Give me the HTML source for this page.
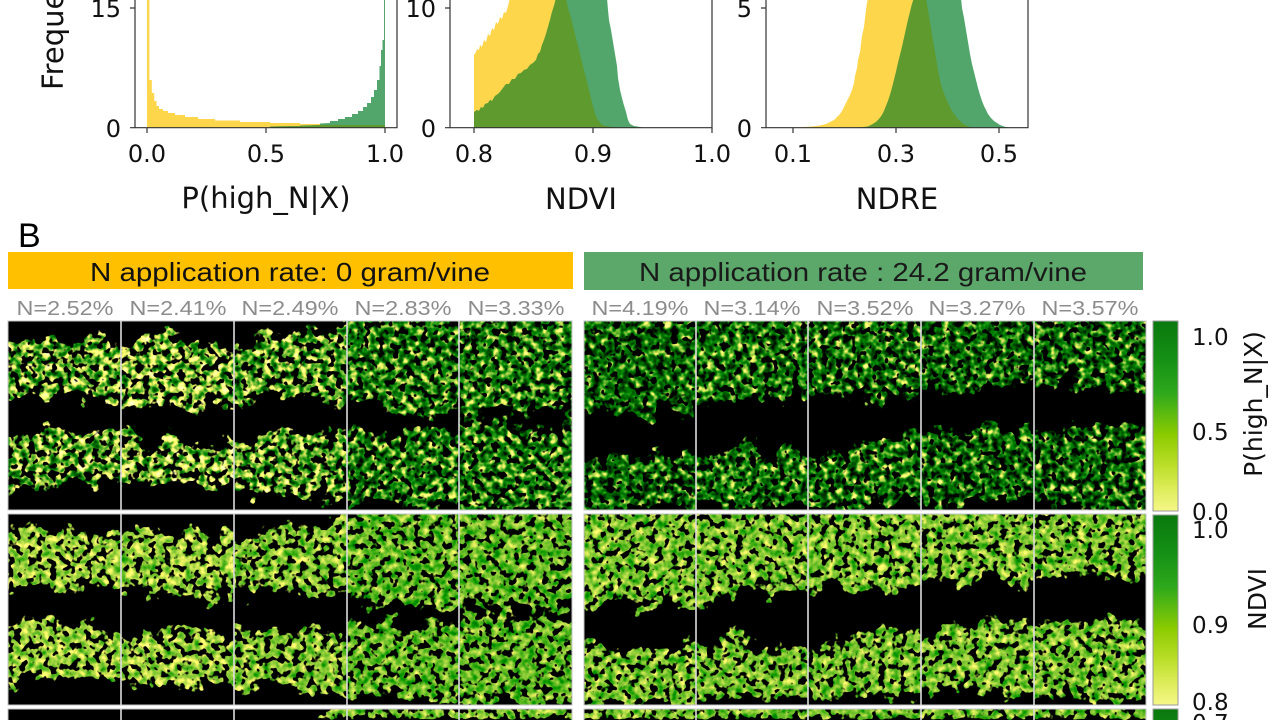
<!DOCTYPE html>
<html><head><meta charset="utf-8"><style>html,body{margin:0;padding:0;background:#fff;width:1280px;height:720px;overflow:hidden}svg{display:block}</style></head><body>
<svg width="1280" height="720" viewBox="0 0 1280 720" xmlns="http://www.w3.org/2000/svg">
<defs>
<linearGradient id="cb" x1="0" y1="0" x2="0" y2="1">
<stop offset="0" stop-color="#0A780E"/><stop offset="0.2" stop-color="#159015"/><stop offset="0.38" stop-color="#2EA81C"/><stop offset="0.5" stop-color="#62BC0E"/><stop offset="0.6" stop-color="#8CCB00"/><stop offset="0.75" stop-color="#B8DD26"/><stop offset="0.88" stop-color="#DCEC58"/><stop offset="1" stop-color="#F6F788"/>
</linearGradient>
<linearGradient id="cb3" x1="0" y1="709" x2="0" y2="899" gradientUnits="userSpaceOnUse">
<stop offset="0" stop-color="#0A780E"/><stop offset="0.2" stop-color="#159015"/><stop offset="1" stop-color="#F6F788"/>
</linearGradient>
<g id="L" fill="#fff">
<path d="M-20,340 L30,332 L60,338 L90,335 L121,341 L145,329 L175,335 L205,341 L234,345 L262,333 L292,335 L322,327 L340,316 L347,300 L600,300 L600,412 L540,416 L500,412 L459,416 L420,418 L380,412 L347,406 L320,402 L290,400 L262,401 L234,404 L205,412 L175,406 L145,404 L121,402 L90,401 L60,403 L30,400 L-20,402 Z"/>
<path d="M-20,428 L40,422 L80,429 L121,436 L160,434 L200,439 L234,437 L270,434 L310,433 L347,430 L390,428 L430,426 L459,424 L500,417 L540,421 L600,426 L600,520 L530,518 L459,513 L420,509 L380,508 L347,504 L300,500 L260,497 L234,495 L190,495 L150,493 L121,491 L80,490 L40,491 L-20,489 Z"/>
</g>
<g id="R" fill="#fff">
<path d="M556,300 L1175,300 L1175,390 L1100,388 L1034,390 L980,390 L921,394 L897,398 L887,416 L874,399 L808,398 L760,403 L720,408 L696,416 L650,418 L600,416 L556,416 Z"/>
<path d="M556,446 L620,451 L650,456 L696,448 L730,441 L760,444 L808,454 L840,444 L880,434 L921,432 L960,428 L1000,424 L1034,426 L1080,424 L1175,422 L1175,516 L1100,511 L1034,505 L980,503 L921,505 L880,505 L840,509 L808,507 L760,508 L720,510 L696,516 L556,520 Z"/>
</g>
<path id="L3" fill="#fff" d="M-20,720 L140,720 L145,717 L150,720 L255,720 L262,716 L272,720 L288,720 L292,718 L298,720 L312,720 L322,713 L340,702 L347,688 L600,688 L600,720 Z"/>
<path id="R3" fill="#fff" d="M556,688 L1175,688 L1175,720 L556,720 Z"/>
<clipPath id="kL11"><rect x="8" y="321" width="113" height="189"/></clipPath>
<clipPath id="kL21"><rect x="121" y="321" width="113" height="189"/></clipPath>
<clipPath id="kL31"><rect x="234" y="321" width="113" height="189"/></clipPath>
<clipPath id="kL41"><rect x="347" y="321" width="112" height="189"/></clipPath>
<clipPath id="kL51"><rect x="459" y="321" width="113" height="189"/></clipPath>
<clipPath id="kR11"><rect x="584" y="321" width="112" height="189"/></clipPath>
<clipPath id="kR21"><rect x="696" y="321" width="112" height="189"/></clipPath>
<clipPath id="kR31"><rect x="808" y="321" width="113" height="189"/></clipPath>
<clipPath id="kR41"><rect x="921" y="321" width="113" height="189"/></clipPath>
<clipPath id="kR51"><rect x="1034" y="321" width="112" height="189"/></clipPath>
<clipPath id="kL12"><rect x="8" y="514" width="113" height="191"/></clipPath>
<clipPath id="kL22"><rect x="121" y="514" width="113" height="191"/></clipPath>
<clipPath id="kL32"><rect x="234" y="514" width="113" height="191"/></clipPath>
<clipPath id="kL42"><rect x="347" y="514" width="112" height="191"/></clipPath>
<clipPath id="kL52"><rect x="459" y="514" width="113" height="191"/></clipPath>
<clipPath id="kR12"><rect x="584" y="514" width="112" height="191"/></clipPath>
<clipPath id="kR22"><rect x="696" y="514" width="112" height="191"/></clipPath>
<clipPath id="kR32"><rect x="808" y="514" width="113" height="191"/></clipPath>
<clipPath id="kR42"><rect x="921" y="514" width="113" height="191"/></clipPath>
<clipPath id="kR52"><rect x="1034" y="514" width="112" height="191"/></clipPath>
<clipPath id="kL3"><rect x="8" y="709" width="564" height="11"/></clipPath>
<clipPath id="kR3"><rect x="584" y="709" width="562" height="11"/></clipPath>

<!-- row 1 -->
<filter id="fL11" filterUnits="userSpaceOnUse" x="-17" y="296" width="163" height="234" color-interpolation-filters="sRGB"><feTurbulence type="fractalNoise" baseFrequency="0.05" numOctaves="2" seed="101" result="d"/><feDisplacementMap in="SourceAlpha" in2="d" scale="50" xChannelSelector="R" yChannelSelector="G" result="sa"/><feGaussianBlur in="sa" stdDeviation="4" result="b"/><feTurbulence type="fractalNoise" baseFrequency="0.14" numOctaves="2" seed="11" result="n"/><feColorMatrix in="n" type="matrix" values="0 0 0 0 0 0 0 0 0 0 0 0 0 0 0 0 0 0 1 0" result="na"/><feComposite in="na" in2="b" operator="arithmetic" k1="14" k2="0" k3="0" k4="-5.66" result="m"/><feColorMatrix in="n" type="matrix" values="-4.2 0 0 0 2.58 -1.85 0 0 0 1.67 -1.65 0 0 0 1.04 0 0 0 0 1" result="c"/><feComposite in="c" in2="m" operator="in"/></filter>
<filter id="fL21" filterUnits="userSpaceOnUse" x="96" y="296" width="163" height="234" color-interpolation-filters="sRGB"><feTurbulence type="fractalNoise" baseFrequency="0.05" numOctaves="2" seed="102" result="d"/><feDisplacementMap in="SourceAlpha" in2="d" scale="50" xChannelSelector="R" yChannelSelector="G" result="sa"/><feGaussianBlur in="sa" stdDeviation="4" result="b"/><feTurbulence type="fractalNoise" baseFrequency="0.14" numOctaves="2" seed="12" result="n"/><feColorMatrix in="n" type="matrix" values="0 0 0 0 0 0 0 0 0 0 0 0 0 0 0 0 0 0 1 0" result="na"/><feComposite in="na" in2="b" operator="arithmetic" k1="14" k2="0" k3="0" k4="-5.66" result="m"/><feColorMatrix in="n" type="matrix" values="-4.2 0 0 0 2.706 -1.85 0 0 0 1.7255 -1.65 0 0 0 1.0895 0 0 0 0 1" result="c"/><feComposite in="c" in2="m" operator="in"/></filter>
<filter id="fL31" filterUnits="userSpaceOnUse" x="209" y="296" width="163" height="234" color-interpolation-filters="sRGB"><feTurbulence type="fractalNoise" baseFrequency="0.05" numOctaves="2" seed="103" result="d"/><feDisplacementMap in="SourceAlpha" in2="d" scale="50" xChannelSelector="R" yChannelSelector="G" result="sa"/><feGaussianBlur in="sa" stdDeviation="4" result="b"/><feTurbulence type="fractalNoise" baseFrequency="0.14" numOctaves="2" seed="13" result="n"/><feColorMatrix in="n" type="matrix" values="0 0 0 0 0 0 0 0 0 0 0 0 0 0 0 0 0 0 1 0" result="na"/><feComposite in="na" in2="b" operator="arithmetic" k1="14" k2="0" k3="0" k4="-5.66" result="m"/><feColorMatrix in="n" type="matrix" values="-4.2 0 0 0 2.496 -1.85 0 0 0 1.633 -1.65 0 0 0 1.007 0 0 0 0 1" result="c"/><feComposite in="c" in2="m" operator="in"/></filter>
<filter id="fL41" filterUnits="userSpaceOnUse" x="322" y="296" width="162" height="234" color-interpolation-filters="sRGB"><feTurbulence type="fractalNoise" baseFrequency="0.05" numOctaves="2" seed="104" result="d"/><feDisplacementMap in="SourceAlpha" in2="d" scale="50" xChannelSelector="R" yChannelSelector="G" result="sa"/><feGaussianBlur in="sa" stdDeviation="4" result="b"/><feTurbulence type="fractalNoise" baseFrequency="0.14" numOctaves="2" seed="14" result="n"/><feColorMatrix in="n" type="matrix" values="0 0 0 0 0 0 0 0 0 0 0 0 0 0 0 0 0 0 1 0" result="na"/><feComposite in="na" in2="b" operator="arithmetic" k1="14" k2="0" k3="0" k4="-5.38" result="m"/><feColorMatrix in="n" type="matrix" values="-4.2 0 0 0 2.16 -1.85 0 0 0 1.485 -1.65 0 0 0 0.875 0 0 0 0 1" result="c"/><feComposite in="c" in2="m" operator="in"/></filter>
<filter id="fL51" filterUnits="userSpaceOnUse" x="434" y="296" width="163" height="234" color-interpolation-filters="sRGB"><feTurbulence type="fractalNoise" baseFrequency="0.05" numOctaves="2" seed="105" result="d"/><feDisplacementMap in="SourceAlpha" in2="d" scale="50" xChannelSelector="R" yChannelSelector="G" result="sa"/><feGaussianBlur in="sa" stdDeviation="4" result="b"/><feTurbulence type="fractalNoise" baseFrequency="0.14" numOctaves="2" seed="15" result="n"/><feColorMatrix in="n" type="matrix" values="0 0 0 0 0 0 0 0 0 0 0 0 0 0 0 0 0 0 1 0" result="na"/><feComposite in="na" in2="b" operator="arithmetic" k1="14" k2="0" k3="0" k4="-5.38" result="m"/><feColorMatrix in="n" type="matrix" values="-4.2 0 0 0 2.16 -1.85 0 0 0 1.485 -1.65 0 0 0 0.875 0 0 0 0 1" result="c"/><feComposite in="c" in2="m" operator="in"/></filter>
<filter id="fR11" filterUnits="userSpaceOnUse" x="559" y="296" width="162" height="234" color-interpolation-filters="sRGB"><feTurbulence type="fractalNoise" baseFrequency="0.05" numOctaves="2" seed="201" result="d"/><feDisplacementMap in="SourceAlpha" in2="d" scale="50" xChannelSelector="R" yChannelSelector="G" result="sa"/><feGaussianBlur in="sa" stdDeviation="4" result="b"/><feTurbulence type="fractalNoise" baseFrequency="0.14" numOctaves="2" seed="21" result="n"/><feColorMatrix in="n" type="matrix" values="0 0 0 0 0 0 0 0 0 0 0 0 0 0 0 0 0 0 1 0" result="na"/><feComposite in="na" in2="b" operator="arithmetic" k1="14" k2="0" k3="0" k4="-5.24" result="m"/><feColorMatrix in="n" type="matrix" values="-4.2 0 0 0 1.95 -1.85 0 0 0 1.3925 -1.65 0 0 0 0.7925 0 0 0 0 1" result="c"/><feComposite in="c" in2="m" operator="in"/></filter>
<filter id="fR21" filterUnits="userSpaceOnUse" x="671" y="296" width="162" height="234" color-interpolation-filters="sRGB"><feTurbulence type="fractalNoise" baseFrequency="0.05" numOctaves="2" seed="202" result="d"/><feDisplacementMap in="SourceAlpha" in2="d" scale="50" xChannelSelector="R" yChannelSelector="G" result="sa"/><feGaussianBlur in="sa" stdDeviation="4" result="b"/><feTurbulence type="fractalNoise" baseFrequency="0.14" numOctaves="2" seed="22" result="n"/><feColorMatrix in="n" type="matrix" values="0 0 0 0 0 0 0 0 0 0 0 0 0 0 0 0 0 0 1 0" result="na"/><feComposite in="na" in2="b" operator="arithmetic" k1="14" k2="0" k3="0" k4="-5.24" result="m"/><feColorMatrix in="n" type="matrix" values="-4.2 0 0 0 2.076 -1.85 0 0 0 1.448 -1.65 0 0 0 0.842 0 0 0 0 1" result="c"/><feComposite in="c" in2="m" operator="in"/></filter>
<filter id="fR31" filterUnits="userSpaceOnUse" x="783" y="296" width="163" height="234" color-interpolation-filters="sRGB"><feTurbulence type="fractalNoise" baseFrequency="0.05" numOctaves="2" seed="203" result="d"/><feDisplacementMap in="SourceAlpha" in2="d" scale="50" xChannelSelector="R" yChannelSelector="G" result="sa"/><feGaussianBlur in="sa" stdDeviation="4" result="b"/><feTurbulence type="fractalNoise" baseFrequency="0.14" numOctaves="2" seed="23" result="n"/><feColorMatrix in="n" type="matrix" values="0 0 0 0 0 0 0 0 0 0 0 0 0 0 0 0 0 0 1 0" result="na"/><feComposite in="na" in2="b" operator="arithmetic" k1="14" k2="0" k3="0" k4="-5.24" result="m"/><feColorMatrix in="n" type="matrix" values="-4.2 0 0 0 2.076 -1.85 0 0 0 1.448 -1.65 0 0 0 0.842 0 0 0 0 1" result="c"/><feComposite in="c" in2="m" operator="in"/></filter>
<filter id="fR41" filterUnits="userSpaceOnUse" x="896" y="296" width="163" height="234" color-interpolation-filters="sRGB"><feTurbulence type="fractalNoise" baseFrequency="0.05" numOctaves="2" seed="204" result="d"/><feDisplacementMap in="SourceAlpha" in2="d" scale="50" xChannelSelector="R" yChannelSelector="G" result="sa"/><feGaussianBlur in="sa" stdDeviation="4" result="b"/><feTurbulence type="fractalNoise" baseFrequency="0.14" numOctaves="2" seed="24" result="n"/><feColorMatrix in="n" type="matrix" values="0 0 0 0 0 0 0 0 0 0 0 0 0 0 0 0 0 0 1 0" result="na"/><feComposite in="na" in2="b" operator="arithmetic" k1="14" k2="0" k3="0" k4="-5.24" result="m"/><feColorMatrix in="n" type="matrix" values="-4.2 0 0 0 1.95 -1.85 0 0 0 1.3925 -1.65 0 0 0 0.7925 0 0 0 0 1" result="c"/><feComposite in="c" in2="m" operator="in"/></filter>
<filter id="fR51" filterUnits="userSpaceOnUse" x="1009" y="296" width="162" height="234" color-interpolation-filters="sRGB"><feTurbulence type="fractalNoise" baseFrequency="0.05" numOctaves="2" seed="205" result="d"/><feDisplacementMap in="SourceAlpha" in2="d" scale="50" xChannelSelector="R" yChannelSelector="G" result="sa"/><feGaussianBlur in="sa" stdDeviation="4" result="b"/><feTurbulence type="fractalNoise" baseFrequency="0.14" numOctaves="2" seed="25" result="n"/><feColorMatrix in="n" type="matrix" values="0 0 0 0 0 0 0 0 0 0 0 0 0 0 0 0 0 0 1 0" result="na"/><feComposite in="na" in2="b" operator="arithmetic" k1="14" k2="0" k3="0" k4="-5.24" result="m"/><feColorMatrix in="n" type="matrix" values="-4.2 0 0 0 1.95 -1.85 0 0 0 1.3925 -1.65 0 0 0 0.7925 0 0 0 0 1" result="c"/><feComposite in="c" in2="m" operator="in"/></filter>

<!-- row 2 -->
<filter id="fL12" filterUnits="userSpaceOnUse" x="-17" y="489" width="163" height="231" color-interpolation-filters="sRGB"><feTurbulence type="fractalNoise" baseFrequency="0.05" numOctaves="2" seed="101" result="d"/><feDisplacementMap in="SourceAlpha" in2="d" scale="50" xChannelSelector="R" yChannelSelector="G" result="sa"/><feGaussianBlur in="sa" stdDeviation="4" result="b"/><feTurbulence type="fractalNoise" baseFrequency="0.14" numOctaves="2" seed="31" result="n"/><feColorMatrix in="n" type="matrix" values="0 0 0 0 0 0 0 0 0 0 0 0 0 0 0 0 0 0 1 0" result="na"/><feComposite in="na" in2="b" operator="arithmetic" k1="14" k2="0" k3="0" k4="-5.52" result="m"/><feColorMatrix in="n" type="matrix" values="-1.8 0 0 0 1.54 -0.72 0 0 0 1.196 -0.81 0 0 0 0.6605 0 0 0 0 1" result="c"/><feComposite in="c" in2="m" operator="in"/></filter>
<filter id="fL22" filterUnits="userSpaceOnUse" x="96" y="489" width="163" height="231" color-interpolation-filters="sRGB"><feTurbulence type="fractalNoise" baseFrequency="0.05" numOctaves="2" seed="102" result="d"/><feDisplacementMap in="SourceAlpha" in2="d" scale="50" xChannelSelector="R" yChannelSelector="G" result="sa"/><feGaussianBlur in="sa" stdDeviation="4" result="b"/><feTurbulence type="fractalNoise" baseFrequency="0.14" numOctaves="2" seed="32" result="n"/><feColorMatrix in="n" type="matrix" values="0 0 0 0 0 0 0 0 0 0 0 0 0 0 0 0 0 0 1 0" result="na"/><feComposite in="na" in2="b" operator="arithmetic" k1="14" k2="0" k3="0" k4="-5.52" result="m"/><feColorMatrix in="n" type="matrix" values="-1.8 0 0 0 1.54 -0.72 0 0 0 1.196 -0.81 0 0 0 0.6605 0 0 0 0 1" result="c"/><feComposite in="c" in2="m" operator="in"/></filter>
<filter id="fL32" filterUnits="userSpaceOnUse" x="209" y="489" width="163" height="231" color-interpolation-filters="sRGB"><feTurbulence type="fractalNoise" baseFrequency="0.05" numOctaves="2" seed="103" result="d"/><feDisplacementMap in="SourceAlpha" in2="d" scale="50" xChannelSelector="R" yChannelSelector="G" result="sa"/><feGaussianBlur in="sa" stdDeviation="4" result="b"/><feTurbulence type="fractalNoise" baseFrequency="0.14" numOctaves="2" seed="33" result="n"/><feColorMatrix in="n" type="matrix" values="0 0 0 0 0 0 0 0 0 0 0 0 0 0 0 0 0 0 1 0" result="na"/><feComposite in="na" in2="b" operator="arithmetic" k1="14" k2="0" k3="0" k4="-5.52" result="m"/><feColorMatrix in="n" type="matrix" values="-1.8 0 0 0 1.45 -0.72 0 0 0 1.16 -0.81 0 0 0 0.62 0 0 0 0 1" result="c"/><feComposite in="c" in2="m" operator="in"/></filter>
<filter id="fL42" filterUnits="userSpaceOnUse" x="322" y="489" width="162" height="231" color-interpolation-filters="sRGB"><feTurbulence type="fractalNoise" baseFrequency="0.05" numOctaves="2" seed="104" result="d"/><feDisplacementMap in="SourceAlpha" in2="d" scale="50" xChannelSelector="R" yChannelSelector="G" result="sa"/><feGaussianBlur in="sa" stdDeviation="4" result="b"/><feTurbulence type="fractalNoise" baseFrequency="0.14" numOctaves="2" seed="34" result="n"/><feColorMatrix in="n" type="matrix" values="0 0 0 0 0 0 0 0 0 0 0 0 0 0 0 0 0 0 1 0" result="na"/><feComposite in="na" in2="b" operator="arithmetic" k1="14" k2="0" k3="0" k4="-5.38" result="m"/><feColorMatrix in="n" type="matrix" values="-1.8 0 0 0 1.306 -0.72 0 0 0 1.1024 -0.81 0 0 0 0.5552 0 0 0 0 1" result="c"/><feComposite in="c" in2="m" operator="in"/></filter>
<filter id="fL52" filterUnits="userSpaceOnUse" x="434" y="489" width="163" height="231" color-interpolation-filters="sRGB"><feTurbulence type="fractalNoise" baseFrequency="0.05" numOctaves="2" seed="105" result="d"/><feDisplacementMap in="SourceAlpha" in2="d" scale="50" xChannelSelector="R" yChannelSelector="G" result="sa"/><feGaussianBlur in="sa" stdDeviation="4" result="b"/><feTurbulence type="fractalNoise" baseFrequency="0.14" numOctaves="2" seed="35" result="n"/><feColorMatrix in="n" type="matrix" values="0 0 0 0 0 0 0 0 0 0 0 0 0 0 0 0 0 0 1 0" result="na"/><feComposite in="na" in2="b" operator="arithmetic" k1="14" k2="0" k3="0" k4="-5.38" result="m"/><feColorMatrix in="n" type="matrix" values="-1.8 0 0 0 1.306 -0.72 0 0 0 1.1024 -0.81 0 0 0 0.5552 0 0 0 0 1" result="c"/><feComposite in="c" in2="m" operator="in"/></filter>
<filter id="fR12" filterUnits="userSpaceOnUse" x="559" y="489" width="162" height="231" color-interpolation-filters="sRGB"><feTurbulence type="fractalNoise" baseFrequency="0.05" numOctaves="2" seed="201" result="d"/><feDisplacementMap in="SourceAlpha" in2="d" scale="50" xChannelSelector="R" yChannelSelector="G" result="sa"/><feGaussianBlur in="sa" stdDeviation="4" result="b"/><feTurbulence type="fractalNoise" baseFrequency="0.14" numOctaves="2" seed="41" result="n"/><feColorMatrix in="n" type="matrix" values="0 0 0 0 0 0 0 0 0 0 0 0 0 0 0 0 0 0 1 0" result="na"/><feComposite in="na" in2="b" operator="arithmetic" k1="14" k2="0" k3="0" k4="-5.38" result="m"/><feColorMatrix in="n" type="matrix" values="-1.8 0 0 0 1.396 -0.72 0 0 0 1.1384 -0.81 0 0 0 0.5957 0 0 0 0 1" result="c"/><feComposite in="c" in2="m" operator="in"/></filter>
<filter id="fR22" filterUnits="userSpaceOnUse" x="671" y="489" width="162" height="231" color-interpolation-filters="sRGB"><feTurbulence type="fractalNoise" baseFrequency="0.05" numOctaves="2" seed="202" result="d"/><feDisplacementMap in="SourceAlpha" in2="d" scale="50" xChannelSelector="R" yChannelSelector="G" result="sa"/><feGaussianBlur in="sa" stdDeviation="4" result="b"/><feTurbulence type="fractalNoise" baseFrequency="0.14" numOctaves="2" seed="42" result="n"/><feColorMatrix in="n" type="matrix" values="0 0 0 0 0 0 0 0 0 0 0 0 0 0 0 0 0 0 1 0" result="na"/><feComposite in="na" in2="b" operator="arithmetic" k1="14" k2="0" k3="0" k4="-5.38" result="m"/><feColorMatrix in="n" type="matrix" values="-1.8 0 0 0 1.396 -0.72 0 0 0 1.1384 -0.81 0 0 0 0.5957 0 0 0 0 1" result="c"/><feComposite in="c" in2="m" operator="in"/></filter>
<filter id="fR32" filterUnits="userSpaceOnUse" x="783" y="489" width="163" height="231" color-interpolation-filters="sRGB"><feTurbulence type="fractalNoise" baseFrequency="0.05" numOctaves="2" seed="203" result="d"/><feDisplacementMap in="SourceAlpha" in2="d" scale="50" xChannelSelector="R" yChannelSelector="G" result="sa"/><feGaussianBlur in="sa" stdDeviation="4" result="b"/><feTurbulence type="fractalNoise" baseFrequency="0.14" numOctaves="2" seed="43" result="n"/><feColorMatrix in="n" type="matrix" values="0 0 0 0 0 0 0 0 0 0 0 0 0 0 0 0 0 0 1 0" result="na"/><feComposite in="na" in2="b" operator="arithmetic" k1="14" k2="0" k3="0" k4="-5.38" result="m"/><feColorMatrix in="n" type="matrix" values="-1.8 0 0 0 1.396 -0.72 0 0 0 1.1384 -0.81 0 0 0 0.5957 0 0 0 0 1" result="c"/><feComposite in="c" in2="m" operator="in"/></filter>
<filter id="fR42" filterUnits="userSpaceOnUse" x="896" y="489" width="163" height="231" color-interpolation-filters="sRGB"><feTurbulence type="fractalNoise" baseFrequency="0.05" numOctaves="2" seed="204" result="d"/><feDisplacementMap in="SourceAlpha" in2="d" scale="50" xChannelSelector="R" yChannelSelector="G" result="sa"/><feGaussianBlur in="sa" stdDeviation="4" result="b"/><feTurbulence type="fractalNoise" baseFrequency="0.14" numOctaves="2" seed="44" result="n"/><feColorMatrix in="n" type="matrix" values="0 0 0 0 0 0 0 0 0 0 0 0 0 0 0 0 0 0 1 0" result="na"/><feComposite in="na" in2="b" operator="arithmetic" k1="14" k2="0" k3="0" k4="-5.38" result="m"/><feColorMatrix in="n" type="matrix" values="-1.8 0 0 0 1.396 -0.72 0 0 0 1.1384 -0.81 0 0 0 0.5957 0 0 0 0 1" result="c"/><feComposite in="c" in2="m" operator="in"/></filter>
<filter id="fR52" filterUnits="userSpaceOnUse" x="1009" y="489" width="162" height="231" color-interpolation-filters="sRGB"><feTurbulence type="fractalNoise" baseFrequency="0.05" numOctaves="2" seed="205" result="d"/><feDisplacementMap in="SourceAlpha" in2="d" scale="50" xChannelSelector="R" yChannelSelector="G" result="sa"/><feGaussianBlur in="sa" stdDeviation="4" result="b"/><feTurbulence type="fractalNoise" baseFrequency="0.14" numOctaves="2" seed="45" result="n"/><feColorMatrix in="n" type="matrix" values="0 0 0 0 0 0 0 0 0 0 0 0 0 0 0 0 0 0 1 0" result="na"/><feComposite in="na" in2="b" operator="arithmetic" k1="14" k2="0" k3="0" k4="-5.38" result="m"/><feColorMatrix in="n" type="matrix" values="-1.8 0 0 0 1.396 -0.72 0 0 0 1.1384 -0.81 0 0 0 0.5957 0 0 0 0 1" result="c"/><feComposite in="c" in2="m" operator="in"/></filter>

<!-- row 3 -->
<filter id="fL3" filterUnits="userSpaceOnUse" x="-20" y="680" width="620" height="40" color-interpolation-filters="sRGB"><feGaussianBlur in="SourceAlpha" stdDeviation="2" result="b"/><feTurbulence type="fractalNoise" baseFrequency="0.14" numOctaves="2" seed="51" result="n"/><feColorMatrix in="n" type="matrix" values="0 0 0 0 0 0 0 0 0 0 0 0 0 0 0 0 0 0 1 0" result="na"/><feComposite in="na" in2="b" operator="arithmetic" k1="14" k2="0" k3="0" k4="-5.38" result="m"/><feColorMatrix in="n" type="matrix" values="-1.8 0 0 0 1.396 -0.72 0 0 0 1.1384 -0.81 0 0 0 0.5957 0 0 0 0 1" result="c"/><feComposite in="c" in2="m" operator="in"/></filter>
<filter id="fR3" filterUnits="userSpaceOnUse" x="556" y="680" width="620" height="40" color-interpolation-filters="sRGB"><feGaussianBlur in="SourceAlpha" stdDeviation="2" result="b"/><feTurbulence type="fractalNoise" baseFrequency="0.14" numOctaves="2" seed="52" result="n"/><feColorMatrix in="n" type="matrix" values="0 0 0 0 0 0 0 0 0 0 0 0 0 0 0 0 0 0 1 0" result="na"/><feComposite in="na" in2="b" operator="arithmetic" k1="14" k2="0" k3="0" k4="-5.24" result="m"/><feColorMatrix in="n" type="matrix" values="-1.8 0 0 0 1.36 -0.72 0 0 0 1.124 -0.81 0 0 0 0.5795 0 0 0 0 1" result="c"/><feComposite in="c" in2="m" operator="in"/></filter>
</defs>

<rect x="0" y="0" width="1280" height="720" fill="#fff"/>

<g font-family="'DejaVu Sans', sans-serif" fill="#111">
<path d="M147,127.7 L147,-2 L149.4,-2 L149.4,80 L151.8,80 L151.8,93 L154.2,93 L154.2,101 L156.5,101 L156.5,106 L159,106 L159,109 L163,109 L163,111 L168,111 L168,113 L175,113 L175,115 L185,115 L185,117 L198,117 L198,119 L215,119 L215,120.5 L240,120.5 L240,122 L270,122 L270,123 L300,123 L300,124 L340,124 L340,125 L385,125 L385,127.7 Z" fill="#FDD64B"/>
<path d="M270,127.7 L270,126.5 L300,126 L300,125.5 L320,125 L320,123.5 L330,123 L330,121 L338,121 L338,119 L345,119 L345,117 L352,117 L352,114 L358,114 L358,111 L363,111 L363,107 L367,107 L367,103 L371,103 L371,97 L374,97 L374,90 L377,90 L377,80 L379.5,80 L379.5,66 L381,66 L381,50 L382.5,50 L382.5,40 L384,40 L384,-2 L385,-2 L385,127.7 Z" fill="#52A66B"/>
<path d="M270,127.7 L270,126.5 L300,126 L320,125 L385,125 L385,127.7 Z" fill="#5F9A2F"/>
<path d="M474,127.7 L474,55 L476,52 L477,49 L479,50 L480,45 L482,47 L484,40 L486,42 L488,34 L490,36 L492,28 L494,30 L496,22 L498,24 L500,17 L502,19 L504,12 L506,13 L508,6 L510,-2 L566,-2 L568,8 L570,14 L572,22 L574,30 L576,38 L578,46 L580,54 L582,62 L584,70 L586,78 L588,86 L590,94 L592,102 L594,110 L596,116 L598,120 L601,124 L605,126 L612,127 L620,127.7 Z" fill="#FDD64B"/>
<path d="M474,127.7 L474,112 L477,110 L479,111 L481,107 L483,108 L485,104 L488,103 L490,100 L492,101 L495,96 L498,94 L500,92 L503,88 L506,84 L509,84 L512,79 L515,79 L518,74 L521,73 L524,70 L527,69 L530,65 L533,63 L536,60 L538,54 L540,52 L542,45 L544,40 L546,34 L548,27 L550,20 L552,12 L554,6 L556,-2 L607,-2 L608,10 L609,20 L611,30 L613,42 L615,54 L617,66 L618,78 L620,90 L623,102 L626,112 L628,120 L630,124 L634,126 L640,127 L646,127.7 Z" fill="#52A66B"/>
<path d="M474,127.7 L474,112 L477,110 L479,111 L481,107 L483,108 L485,104 L488,103 L490,100 L492,101 L495,96 L498,94 L500,92 L503,88 L506,84 L509,84 L512,79 L515,79 L518,74 L521,73 L524,70 L527,69 L530,65 L533,63 L536,60 L538,54 L540,52 L542,45 L544,40 L546,34 L548,27 L550,20 L552,12 L554,6 L556,-2 L566,-2 L568,8 L570,14 L572,22 L574,30 L576,38 L578,46 L580,54 L582,62 L584,70 L586,78 L588,86 L590,94 L592,102 L594,110 L596,116 L598,120 L601,124 L605,126 L612,127 L620,127.7 Z" fill="#5F9A2F"/>
<path d="M785,127.7 L800,127.2 L812,126.5 L820,125.5 L826,124 L830,122 L834,120 L837,117 L840,114 L842,111 L844,107 L846,103 L848,99 L850,95 L852,90 L854,83 L855,76 L857,68 L858,60 L860,52 L861,44 L862,36 L864,27 L865,18 L866,10 L867,3 L868,-2 L926,-2 L928,10 L930,22 L932,34 L934,46 L936,58 L938,70 L940,80 L942,88 L945,96 L948,103 L951,109 L954,114 L957,118 L960,121 L963,124 L967,126 L972,127.7 Z" fill="#FDD64B"/>
<path d="M855,127.7 L862,127.3 L868,126.5 L872,124.5 L876,122 L879,119 L882,115 L884,111 L886,106 L888,101 L890,95 L892,88 L894,80 L896,72 L898,63 L900,55 L902,47 L904,38 L906,29 L908,20 L910,12 L912,4 L914,-2 L961,-2 L962,8 L964,18 L966,30 L968,42 L970,54 L972,64 L974,72 L976,80 L978,88 L980,95 L982,101 L984,106 L986,110 L988,114 L991,118 L994,121 L997,123 L1000,125 L1004,126.5 L1010,127.7 Z" fill="#52A66B"/>
<path d="M855,127.7 L862,127.3 L868,126.5 L872,124.5 L876,122 L879,119 L882,115 L884,111 L886,106 L888,101 L890,95 L892,88 L894,80 L896,72 L898,63 L900,55 L902,47 L904,38 L906,29 L908,20 L910,12 L912,4 L914,-2 L926,-2 L928,10 L930,22 L932,34 L934,46 L936,58 L938,70 L940,80 L942,88 L945,96 L948,103 L951,109 L954,114 L957,118 L960,121 L963,124 L967,126 L972,127.7 Z" fill="#5F9A2F"/>

<g fill="none" stroke="#333" stroke-width="1.2">
<path d="M135,-2 V127.7 H397 V-2"/>
<path d="M450,-2 V127.7 H712 V-2"/>
<path d="M766,-2 V127.7 H1028 V-2"/>
<path d="M147,127.7 V133 M266,127.7 V133 M385,127.7 V133 M130,8 H135 M130,127.7 H135"/>
<path d="M474,127.7 V133 M593,127.7 V133 M712,127.7 V133 M445,8 H450 M445,127.7 H450"/>
<path d="M793,127.7 V133 M896,127.7 V133 M999,127.7 V133 M761,8 H766 M761,127.7 H766"/>
</g>
<g font-size="24" text-anchor="middle">
<text x="147" y="162">0.0</text><text x="266" y="162">0.5</text><text x="385" y="162">1.0</text>
<text x="474" y="162">0.8</text><text x="593" y="162">0.9</text><text x="712" y="162">1.0</text>
<text x="793" y="162">0.1</text><text x="896" y="162">0.3</text><text x="999" y="162">0.5</text>
</g>
<g font-size="24" text-anchor="end">
<text x="121" y="17">15</text><text x="121" y="137">0</text>
<text x="436" y="17">10</text><text x="436" y="137">0</text>
<text x="752" y="17">5</text><text x="752" y="137">0</text>
</g>
<g font-size="29" text-anchor="middle">
<text x="266" y="208">P(high_N|X)</text>
<text x="581" y="209">NDVI</text>
<text x="897" y="209">NDRE</text>
</g>
<text font-size="29" transform="translate(63,90) rotate(-90)">Frequency</text>
</g>

<text x="18" y="247" font-family="'Liberation Sans', sans-serif" font-size="34" fill="#000">B</text>
<rect x="8" y="252" width="565" height="37" fill="#FFC000"/>
<rect x="584" y="252" width="559" height="38" fill="#5BA86A"/>
<g font-family="'Liberation Sans', sans-serif" font-size="26" fill="#111">
<text x="90" y="281" textLength="400" lengthAdjust="spacingAndGlyphs">N application rate: 0 gram/vine</text>
<text x="639" y="281" textLength="448" lengthAdjust="spacingAndGlyphs" fill="#1a1a1a">N application rate : 24.2 gram/vine</text>
</g>
<g font-family="'Liberation Sans', sans-serif" font-size="20" fill="#8c8c8c" text-anchor="middle">
<text x="65" y="315" textLength="97" lengthAdjust="spacingAndGlyphs">N=2.52%</text>
<text x="178" y="315" textLength="97" lengthAdjust="spacingAndGlyphs">N=2.41%</text>
<text x="290" y="315" textLength="97" lengthAdjust="spacingAndGlyphs">N=2.49%</text>
<text x="403" y="315" textLength="97" lengthAdjust="spacingAndGlyphs">N=2.83%</text>
<text x="516" y="315" textLength="97" lengthAdjust="spacingAndGlyphs">N=3.33%</text>
<text x="640" y="315" textLength="97" lengthAdjust="spacingAndGlyphs">N=4.19%</text>
<text x="752" y="315" textLength="97" lengthAdjust="spacingAndGlyphs">N=3.14%</text>
<text x="865" y="315" textLength="97" lengthAdjust="spacingAndGlyphs">N=3.52%</text>
<text x="977" y="315" textLength="97" lengthAdjust="spacingAndGlyphs">N=3.27%</text>
<text x="1090" y="315" textLength="97" lengthAdjust="spacingAndGlyphs">N=3.57%</text>
</g>

<g fill="#000">
<rect x="8" y="321" width="564" height="189"/>
<rect x="584" y="321" width="562" height="189"/>
<rect x="8" y="514" width="564" height="191"/>
<rect x="584" y="514" width="562" height="191"/>
<rect x="8" y="709" width="564" height="11"/>
<rect x="584" y="709" width="562" height="11"/>
</g>

<g clip-path="url(#kL11)"><g filter="url(#fL11)"><use href="#L"/></g></g>
<g clip-path="url(#kL21)"><g filter="url(#fL21)"><use href="#L"/></g></g>
<g clip-path="url(#kL31)"><g filter="url(#fL31)"><use href="#L"/></g></g>
<g clip-path="url(#kL41)"><g filter="url(#fL41)"><use href="#L"/></g></g>
<g clip-path="url(#kL51)"><g filter="url(#fL51)"><use href="#L"/></g></g>
<g clip-path="url(#kR11)"><g filter="url(#fR11)"><use href="#R"/></g></g>
<g clip-path="url(#kR21)"><g filter="url(#fR21)"><use href="#R"/></g></g>
<g clip-path="url(#kR31)"><g filter="url(#fR31)"><use href="#R"/></g></g>
<g clip-path="url(#kR41)"><g filter="url(#fR41)"><use href="#R"/></g></g>
<g clip-path="url(#kR51)"><g filter="url(#fR51)"><use href="#R"/></g></g>
<g clip-path="url(#kL12)"><g filter="url(#fL12)"><use href="#L" y="193"/></g></g>
<g clip-path="url(#kL22)"><g filter="url(#fL22)"><use href="#L" y="193"/></g></g>
<g clip-path="url(#kL32)"><g filter="url(#fL32)"><use href="#L" y="193"/></g></g>
<g clip-path="url(#kL42)"><g filter="url(#fL42)"><use href="#L" y="193"/></g></g>
<g clip-path="url(#kL52)"><g filter="url(#fL52)"><use href="#L" y="193"/></g></g>
<g clip-path="url(#kR12)"><g filter="url(#fR12)"><use href="#R" y="193"/></g></g>
<g clip-path="url(#kR22)"><g filter="url(#fR22)"><use href="#R" y="193"/></g></g>
<g clip-path="url(#kR32)"><g filter="url(#fR32)"><use href="#R" y="193"/></g></g>
<g clip-path="url(#kR42)"><g filter="url(#fR42)"><use href="#R" y="193"/></g></g>
<g clip-path="url(#kR52)"><g filter="url(#fR52)"><use href="#R" y="193"/></g></g>
<g clip-path="url(#kL3)"><g filter="url(#fL3)"><use href="#L3"/></g></g>
<g clip-path="url(#kR3)"><g filter="url(#fR3)"><use href="#R3"/></g></g>

<g fill="none" stroke="#c4c4c4" stroke-width="1">
<rect x="8" y="321" width="564" height="189"/>
<rect x="584" y="321" width="562" height="189"/>
<rect x="8" y="514" width="564" height="191"/>
<rect x="584" y="514" width="562" height="191"/>
<path d="M8,720 V709 H572 V720 M584,720 V709 H1146 V720"/>
</g>
<g stroke="#dcdcdc" stroke-width="1.6">
<path d="M121,321 V510 M234,321 V510 M347,321 V510 M459,321 V510 M696,321 V510 M808,321 V510 M921,321 V510 M1034,321 V510"/>
<path d="M121,514 V705 M234,514 V705 M347,514 V705 M459,514 V705 M696,514 V705 M808,514 V705 M921,514 V705 M1034,514 V705"/>
<path d="M121,709 V720 M234,709 V720 M347,709 V720 M459,709 V720 M696,709 V720 M808,709 V720 M921,709 V720 M1034,709 V720"/>
</g>

<g stroke="#9a9a9a" stroke-width="1">
<rect x="1153" y="321" width="25" height="190" fill="url(#cb)"/>
<rect x="1153" y="515" width="25" height="190" fill="url(#cb)"/>
<path d="M1153,720 V709 H1178 V720" fill="url(#cb3)"/>
</g>
<g font-family="'DejaVu Sans', sans-serif" font-size="23" fill="#111">
<text x="1192" y="345">1.0</text>
<text x="1192" y="440">0.5</text>
<text x="1192" y="520">0.0</text>
<text x="1192" y="538">1.0</text>
<text x="1192" y="633">0.9</text>
<text x="1192" y="710">0.8</text>
<text font-size="25" text-anchor="middle" transform="translate(1262,404) rotate(-90)">P(high_N|X)</text>
<text font-size="25" text-anchor="middle" transform="translate(1266,599) rotate(-90)">NDVI</text>
</g>
<svg x="1185" y="710" width="60" height="10" overflow="hidden"><text x="7" y="21" font-family="'DejaVu Sans', sans-serif" font-size="23" fill="#111">0.7</text></svg>
</svg>
</body></html>
